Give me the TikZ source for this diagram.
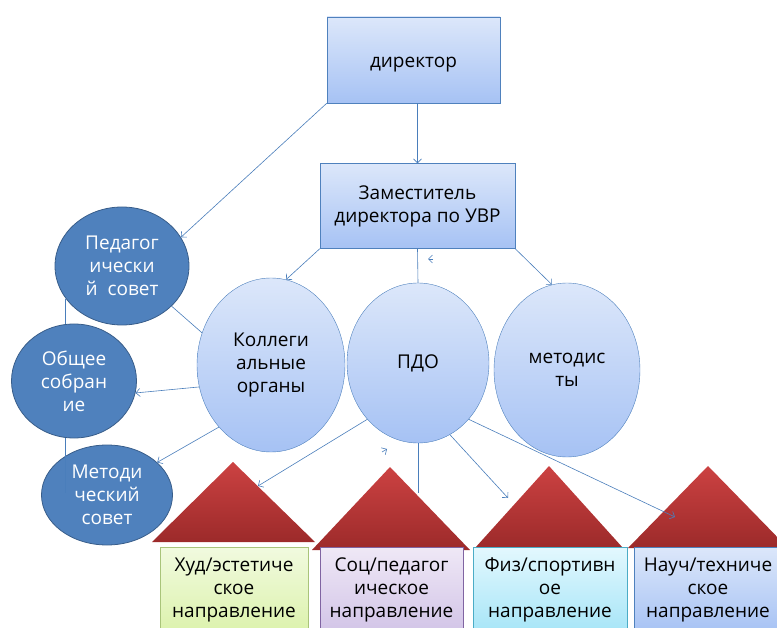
\documentclass[tikz,border=0pt]{standalone}
\usepackage{fontspec}
\setmainfont{Open Sans}
\usepackage{tikz}
\usetikzlibrary{arrows.meta, positioning, shapes.geometric}

\definecolor{linkblue}{HTML}{4A7EBB}
\definecolor{darkfill}{HTML}{4F81BD}
\definecolor{darkline}{HTML}{385D8A}
\definecolor{bluetop}{HTML}{DCE7FA}
\definecolor{bluebot}{HTML}{A6C2F4}
\definecolor{blueline}{HTML}{4F81BD}
\definecolor{redtop}{HTML}{CC4242}
\definecolor{redbot}{HTML}{9C2A2A}
\definecolor{greentop}{HTML}{F1FADF}
\definecolor{greenbot}{HTML}{DCF2AC}
\definecolor{greenline}{HTML}{A9C47A}
\definecolor{violettop}{HTML}{EFE8F6}
\definecolor{violetbot}{HTML}{D2C4E7}
\definecolor{violetline}{HTML}{8064A2}
\definecolor{cyantop}{HTML}{E3F8FE}
\definecolor{cyanbot}{HTML}{A6E5F7}
\definecolor{cyanline}{HTML}{4BACC6}

\begin{document}
\begin{tikzpicture}[x=1pt, y=-1pt,
    txt/.style={font=\fontsize{19}{23}\selectfont, align=center},
    rbox/.style={txt, draw=blueline, top color=bluetop, bottom color=bluebot, inner sep=0pt},
    darkell/.style={txt, ellipse, draw=darkline, fill=darkfill, text=white, inner sep=0pt, line width=0.8pt},
    lightell/.style={txt, ellipse, draw=blueline, top color=bluetop, bottom color=bluebot, inner sep=0pt},
    branch/.style={txt, draw=#1line, top color=#1top, bottom color=#1bot, minimum height=86pt, inner sep=0pt, line width=0.8pt},
    roof/.style={top color=redtop, bottom color=redbot},
    link/.style={draw=linkblue, line width=0.6pt},
    conn/.style={link, -{Straight Barb[length=4pt, width=8pt]}}]
    \clip (0,0) rectangle (777,628);

    % Roofs of the four branches
    \shade[roof] (233,462) -- (152,542) -- (315,542) -- cycle;
    \shade[roof] (390,467) -- (312,550) -- (470,550) -- cycle;
    \shade[roof] (549,466) -- (475,548) -- (623,548) -- cycle;
    \shade[roof] (708,466) -- (628,548) -- (788,548) -- cycle;
    \coordinate (hudroof) at (258,486);
    \coordinate (socroof) at (418,493);
    \coordinate (fizroof) at (508,498);
    \coordinate (nauchroof) at (675,517);

    % Head and deputy
    \node[rbox, minimum width=173pt, minimum height=86pt, text height=16pt, text depth=0pt] (dir) at (413.5,60) {директор};
    \node[rbox, minimum width=195pt, minimum height=85pt] (zam) at (417.5,206) {Заместитель\\директора по УВР};

    % Councils
    \node[darkell, minimum width=134pt, minimum height=118pt] (pedsov) at (122,266) {Педагог\\ически\\й\ \ совет};
    \node[darkell, minimum width=125pt, minimum height=114pt] (obsh) at (74,381) {Общее\\собран\\ие};
    \node[darkell, minimum width=131pt, minimum height=100pt] (metsov) at (107,495) {Методи\\ческий\\совет};

    % Middle level
    \node[lightell, minimum width=148pt, minimum height=174pt] (koll) at (271,365) {Коллеги\\альные\\органы};
    \node[lightell, minimum width=142pt, minimum height=160pt] (pdo) at (418,363) {ПДО};
    \node[lightell, minimum width=146pt, minimum height=174pt] (metod) at (567,370) {методис\\ты};

    % Branches
    \node[branch=green, minimum width=148pt] (hud) at (234,590) {Худ/эстетиче\\ское\\направление};
    \node[branch=violet, minimum width=143pt] (soc) at (391.5,590) {Соц/педагог\\ическое\\направление};
    \node[branch=cyan, minimum width=154pt] (fiz) at (550,590) {Физ/спортивн\\ое\\направление};
    \node[branch=blue, minimum width=148pt] (nauch) at (708,590) {Науч/техниче\\ское\\направление};

    % Links from the top
    \draw[conn] (zam.north |- dir.south) -- (zam.north);
    \draw[conn] (dir.south west) -- (pedsov.26);
    \draw[conn] (zam.south west) -- (koll.80);
    \draw[link] (zam.south) -- (pdo.north);
    \draw[conn] (zam.south east) -- (metod.100);
    \coordinate (tick1) at (433,259);
    \coordinate (tick2) at (428,259);
    \draw[conn] (tick1) -- (tick2);

    % Councils
    \draw[link] (pedsov.210) -- (pedsov.210 |- obsh.north);
    \draw[link] (obsh.-99) -- ++(0,55);
    \draw[link] (pedsov.-39) -- (koll.155);
    \draw[conn] (koll.197) -- (obsh.-11);
    \draw[conn] (koll.230) -- (metsov.33);

    % Links down to the branches
    \draw[conn, {Straight Barb[length=4pt, width=8pt]}-] (hudroof) -- (pdo.228);
    \coordinate (tick3) at (382,452);
    \coordinate (tick4) at (387,449);
    \draw[conn] (tick3) -- (tick4);
    \draw[link] (pdo.south) -- (socroof);
    \draw[conn] (pdo.-66) -- (fizroof);
    \draw[conn] (pdo.-48) -- (nauchroof);

\end{tikzpicture}
\end{document}
